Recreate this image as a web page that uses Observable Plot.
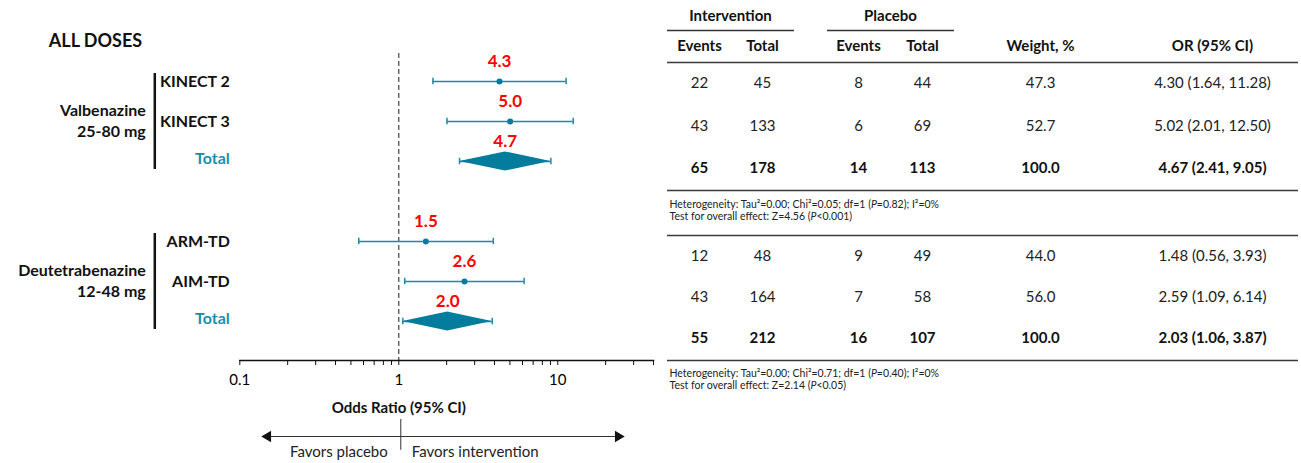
<!DOCTYPE html>
<html>
<head>
<meta charset="utf-8">
<script src="https://cdn.jsdelivr.net/npm/d3@7"></script>
<script src="https://cdn.jsdelivr.net/npm/@observablehq/plot@0.6"></script>
<style>
html, body { margin: 0; padding: 0; background: #fff; }
#wrap { position: relative; width: 1301px; height: 463px; overflow: hidden; font-family: Lato, "Open Sans", sans-serif; }
#forest { position: absolute; left: 0; top: 0; }
#table { position: absolute; left: 660px; top: 0; }
</style>
</head>
<body>
<div id="wrap"><div id="forest"></div><div id="table"></div></div>
<script>
// ---------------- data ----------------
const title = "ALL DOSES";
const groups = ["Valbenazine\n25-80 mg", "Deutetrabenazine\n12-48 mg"];
const groupOf = [0, 0, 0, 1, 1, 1];
const studies = ["KINECT 2", "KINECT 3", "Total", "ARM-TD", "AIM-TD", "Total"];
const isTotal = [false, false, true, false, false, true];
const oddsRatio = [4.30, 5.02, 4.67, 1.48, 2.59, 2.03];
const ciLow = [1.64, 2.01, 2.41, 0.56, 1.09, 1.06];
const ciHigh = [11.28, 12.50, 9.05, 3.93, 6.14, 3.87];
const intEvents = [22, 43, 65, 12, 43, 55];
const intTotal = [45, 133, 178, 48, 164, 212];
const plcEvents = [8, 6, 14, 9, 7, 16];
const plcTotal = [44, 69, 113, 49, 58, 107];
const weight = [47.3, 52.7, 100.0, 44.0, 56.0, 100.0];
const axisTicks = [0.1, 0.2, 0.3, 0.4, 0.5, 0.6, 0.7, 0.8, 0.9, 1, 2, 3, 4, 5, 6, 7, 8, 9, 10, 20, 30, 40];
const axisLabels = [0.1, 1, 10];
const xDomain = [0.1, 40];
const axisTitle = "Odds Ratio (95% CI)";
const favorsLeft = "Favors placebo";
const favorsRight = "Favors intervention";
const colGroupHeaders = ["Intervention", "Placebo"];
const colHeaders = ["Events", "Total", "Events", "Total", "Weight, %", "OR (95% CI)"];
const heterogeneity = [
  ["Heterogeneity: Tau²=0.00; Chi²=0.05; df=1 (P=0.82); I²=0%", "Test for overall effect: Z=4.56 (P<0.001)"],
  ["Heterogeneity: Tau²=0.00; Chi²=0.71; df=1 (P=0.40); I²=0%", "Test for overall effect: Z=2.14 (P<0.05)"]
];

// ---------------- styles / layout ----------------
const TEAL = "#1f87a8";
const TEAL_DARK = "#037c9e";
const FONT = "Lato, 'Open Sans', sans-serif";

const rows = studies.map((s, i) => ({
  study: s, group: groupOf[i], total: isTotal[i],
  slot: groupOf[i] * 4 + (i % 3),
  or: oddsRatio[i], lo: ciLow[i], hi: ciHigh[i]
}));
const studyRows = rows.filter(d => !d.total);
const totalRows = rows.filter(d => d.total);
const diamondPts = totalRows.flatMap((d, k) => [
  {k, x: d.lo, y1: d.slot, y2: d.slot},
  {k, x: d.or, y1: d.slot - 0.24, y2: d.slot + 0.24},
  {k, x: d.hi, y1: d.slot, y2: d.slot}
]);

const forest = Plot.plot({
  width: 660, height: 463,
  marginLeft: 239.3, marginRight: 7, marginTop: 53, marginBottom: 103,
  style: {fontFamily: FONT, background: "transparent", overflow: "visible"},
  x: {type: "log", domain: xDomain, axis: null},
  y: {domain: [0, 6], range: [81, 321], axis: null},
  marks: [
    Plot.ruleX([1], {stroke: "#444", strokeWidth: 1.2, strokeDasharray: "5,3"}),
    Plot.frame({anchor: "bottom", stroke: "#111", strokeWidth: 1.5}),
    Plot.axisX({ticks: axisTicks, tickSize: 5, tickPadding: 9, fontSize: 15, stroke: "#111",
      tickFormat: d => axisLabels.includes(d) ? String(d) : ""}),
    // CI lines
    Plot.ruleY(rows, {y: "slot", x1: "lo", x2: "hi", stroke: TEAL, strokeWidth: 1.5}),
    Plot.ruleX(rows, {x: "lo", y1: d => d.slot - 0.08, y2: d => d.slot + 0.08, stroke: TEAL, strokeWidth: 1.5}),
    Plot.ruleX(rows, {x: "hi", y1: d => d.slot - 0.08, y2: d => d.slot + 0.08, stroke: TEAL, strokeWidth: 1.5}),
    Plot.dot(studyRows, {x: "or", y: "slot", r: 3, fill: TEAL_DARK}),
    Plot.areaY(diamondPts, {x: "x", y1: "y1", y2: "y2", z: "k", fill: TEAL_DARK, curve: "linear"}),
    // red OR values
    Plot.text(rows, {x: "or", y: "slot", text: d => d.or.toFixed(1), dy: -20, fill: "#ff0000", fontWeight: "bold", fontSize: 17}),
    // study labels
    Plot.text(studyRows, {x: () => xDomain[0], y: "slot", text: "study", dx: -10, textAnchor: "end", fontWeight: "bold", fontSize: 16, fill: "#111"}),
    Plot.text(totalRows, {x: () => xDomain[0], y: d => d.slot - 0.06, text: "study", dx: -10, textAnchor: "end", fontWeight: "bold", fontSize: 16, fill: "#1a8db0"}),
    // group labels + brackets
    Plot.text(groups, {x: () => xDomain[0], y: (d, i) => i * 4 + 0.95, text: d => d, dx: -94, textAnchor: "end", lineHeight: 1.3, fontWeight: "bold", fontSize: 16, fill: "#111"}),
    Plot.ruleX(groups, {x: () => xDomain[0], y1: (d, i) => i * 4 - 0.2, y2: (d, i) => i * 4 + 2.2, dx: -85, stroke: "#111", strokeWidth: 2.5}),
    // title
    Plot.text([title], {x: () => xDomain[0], y: () => -1, dx: -191, textAnchor: "start", fontWeight: "bold", fontSize: 18, fill: "#111"}),
    // axis title
    Plot.text([axisTitle], {x: () => 1, y: () => 8.175, fontWeight: "bold", fontSize: 15, fill: "#111"}),
    // favors arrows
    Plot.ruleY([8.875], {x1: 0.15, x2: 24, stroke: "#333", strokeWidth: 1}),
    Plot.dot([{x: 0.15, a: -90}, {x: 24, a: 90}], {x: "x", y: () => 8.875, symbol: "triangle", rotate: "a", r: 4.2, fill: "#111", stroke: "none"}),
    Plot.ruleX([1], {y1: () => 8.45, y2: () => 9.22, dx: 2, stroke: "#333", strokeWidth: 1}),
    Plot.text([favorsLeft], {x: () => 1, y: () => 9.275, dx: -11, textAnchor: "end", fontSize: 15, fill: "#222"}),
    Plot.text([favorsRight], {x: () => 1, y: () => 9.275, dx: 13, textAnchor: "start", fontSize: 15, fill: "#222"})
  ]
});
document.getElementById("forest").appendChild(forest);

// ---------------- table ----------------
const colX = [39, 102, 198, 262, 380, 552];
const colGroupX = [70, 230];
const colGroupSpan = [[7, 134], [167, 294]];
const rowY = [83, 126, 168, 256, 297, 338];
const headerY = 46, groupHeaderY = 16;
const ruleYs = [62, 190, 235, 360];
const hetY = [[204, 216], [373, 385]];

const cells = rows.flatMap((r, i) => {
  const vals = [intEvents[i], intTotal[i], plcEvents[i], plcTotal[i], weight[i].toFixed(1),
    `${oddsRatio[i].toFixed(2)} (${ciLow[i].toFixed(2)}, ${ciHigh[i].toFixed(2)})`];
  return vals.map((v, c) => ({text: String(v), col: c, row: i, bold: r.total}));
});
const hetLines = heterogeneity.flatMap((lines, g) => lines.map((t, j) => ({t, g, j})));

const table = Plot.plot({
  width: 641, height: 463, margin: 0,
  style: {fontFamily: FONT, background: "transparent", overflow: "visible"},
  x: {type: "identity", axis: null}, y: {type: "identity", axis: null},
  marks: [
    Plot.text(colGroupHeaders, {x: (d, i) => colGroupX[i], y: () => groupHeaderY, text: d => d, fontWeight: "bold", fontSize: 15, fill: "#111"}),
    Plot.ruleY(colGroupSpan, {y: () => 30, x1: d => d[0], x2: d => d[1], stroke: "#333", strokeWidth: 1.5}),
    Plot.text(colHeaders, {x: (d, i) => colX[i], y: () => headerY, text: d => d, fontWeight: "bold", fontSize: 15, fill: "#111"}),
    Plot.ruleY(ruleYs, {y: d => d, x1: 7, x2: 638, stroke: "#3a3a3a", strokeWidth: 1.6}),
    Plot.text(cells.filter(d => !d.bold), {x: d => colX[d.col], y: d => rowY[d.row], text: "text", fontSize: 15, fill: "#222"}),
    Plot.text(cells.filter(d => d.bold), {x: d => colX[d.col], y: d => rowY[d.row], text: "text", fontWeight: "bold", fontSize: 15, fill: "#111"}),
    Plot.text(hetLines, {x: () => 9, y: d => hetY[d.g][d.j], text: "t", textAnchor: "start", fontSize: 10.5, fill: "#222"})
  ]
});
document.getElementById("table").appendChild(table);

// italic P in heterogeneity lines
d3.select(table).selectAll("text").each(function () {
  const el = this;
  const t = el.textContent;
  if (!/P[=<]/.test(t) || el.children.length) return;
  const parts = t.split(/(P)(?=[=<])/);
  el.textContent = "";
  parts.forEach(p => {
    const ts = document.createElementNS("http://www.w3.org/2000/svg", "tspan");
    ts.textContent = p;
    if (p === "P") ts.setAttribute("font-style", "italic");
    el.appendChild(ts);
  });
});
</script>
</body>
</html>
